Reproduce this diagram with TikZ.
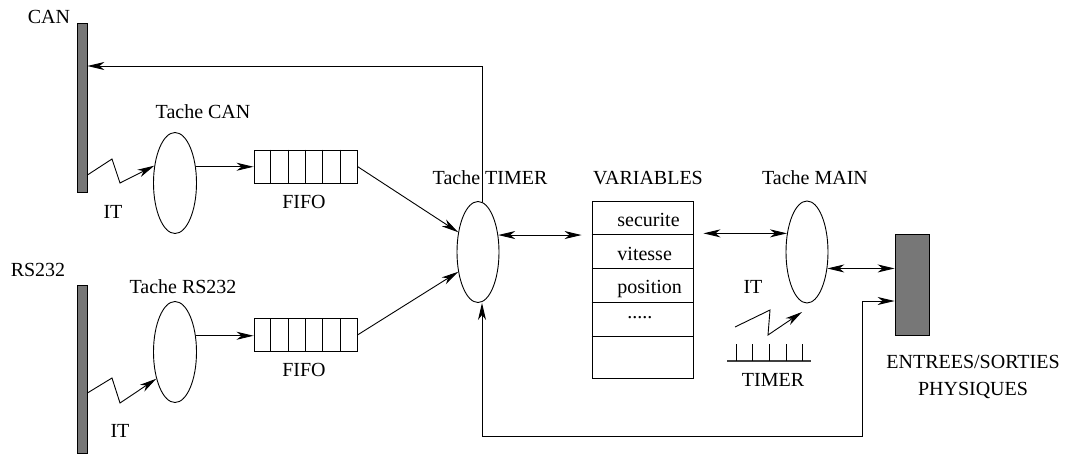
\documentclass[tikz,border=0pt]{standalone}
\usepackage{fontspec}
\setmainfont{Liberation Serif}
\newfontfamily\diagfont{Liberation Serif}
\usetikzlibrary{arrows.meta,calc,shapes.geometric}
\definecolor{busgray}{RGB}{119,119,119}
\begin{document}
\begin{tikzpicture}[x=1pt,y=-1pt,
  line width=0.9pt,
  arr/.style={-{Stealth[length=17pt,width=8pt,inset=5pt]}},
  darr/.style={{Stealth[length=17pt,width=8pt,inset=5pt]}-{Stealth[length=17pt,width=8pt,inset=5pt]}},
  lbl/.style={inner sep=0pt,text height=13.2pt,text depth=0pt,font=\diagfont\fontsize{20}{24}\selectfont},
  bus/.style={draw=black,line width=0.8pt,fill=busgray,minimum width=10pt,inner sep=0pt},
  task/.style={draw,ellipse,inner sep=0pt,minimum width=43pt,minimum height=101pt},
  fifo/.style={draw,rectangle,inner sep=0pt,minimum width=103pt,minimum height=33pt},
]
\useasboundingbox (0,0) rectangle (1065,453);

% buses and I/O box
\node[bus,minimum height=169pt] (canbar) at (82,107.5) {};
\node[bus,minimum height=168pt] (rsbar) at (82,369) {};
\node[bus,minimum width=34pt,minimum height=101pt] (io) at (912,284.5) {};

% tasks
\node[task] (ecan) at (175,183) {};
\node[task] (ers) at (175,352) {};
\node[task,minimum width=42pt] (etimer) at (478,252) {};
\node[task,minimum width=42pt,minimum height=102pt] (emain) at (807,252) {};

% fifos
\node[fifo] (fifo1) at (305.5,166.5) {};
\node[fifo] (fifo2) at (305.5,335) {};
\foreach \f in {fifo1,fifo2}
  \foreach \k in {1,...,5}
    \draw ($(\f.north west)!\k/6!(\f.north east)$) -- ($(\f.south west)!\k/6!(\f.south east)$);

% variables table
\node[draw,inner sep=0pt,minimum width=101pt,minimum height=177pt] (vars) at (642.5,289.5) {};
\foreach \yy in {234,268,302,336}
  \draw (vars.west |- 0,\yy) -- (vars.east |- 0,\yy);
\node[lbl,anchor=base west] (vsec) at (617,226) {securite};
\node[lbl,anchor=base west] (vvit) at (617,260) {vitesse};
\node[lbl,anchor=base west] (vpos) at (617,293) {position};
\node[lbl,anchor=base west] (vdots) at (627,318) {.....};

% labels
\node[lbl] (lcan) at (49,17) {CAN};
\node[lbl] (ltcan) at (203,112) {Tache CAN};
\node[lbl] (lit1) at (113,212) {IT};
\node[lbl] (lfifo1) at (304,202) {FIFO};
\node[lbl] (lrs) at (38,270) {RS232};
\node[lbl] (ltrs) at (183,287) {Tache RS232};
\node[lbl] (lit2) at (120,431) {IT};
\node[lbl] (lfifo2) at (304,370) {FIFO};
\node[lbl] (lttimer) at (490,178) {Tache TIMER};
\node[lbl] (lvars) at (648,178) {VARIABLES};
\node[lbl] (ltmain) at (815,178) {Tache MAIN};
\node[lbl] (lit3) at (753,287) {IT};
\node[lbl] (ltimer) at (773,380) {TIMER};
\node[lbl] (lio1) at (973,362) {ENTREES/SORTIES};
\node[lbl] (lio2) at (973,389) {PHYSIQUES};

% interrupt zigzags
\coordinate (z1) at (112,159);
\coordinate (z2) at (120,183);
\draw[arr] (canbar.east |- 0,175) -- (z1) -- (z2) -- (ecan.140);
\coordinate (z3) at (112,378);
\coordinate (z4) at (120,403);
\draw[arr] (rsbar.east |- 0,393) -- (z3) -- (z4) -- (ers.235);
\coordinate (z5) at (735,327);
\coordinate (z6) at (770,310);
\coordinate (z7) at (768,335);
\coordinate (z8) at (802,312);
\draw[arr] (z5) -- (z6) -- (z7) -- (z8);

% timer scale
\draw[line width=1.8pt,draw=black!75] (727,361) -- (811,361);
\foreach \xx in {736,752,769,786,802}
  \draw (\xx,344) -- (\xx,361);

% task -> fifo
\draw[arr] (ecan.38) -- (ecan.38 -| fifo1.west);
\draw[arr] (ers.38) -- (ers.38 -| fifo2.west);
% fifo -> timer task
\draw[arr] (fifo1.east) -- (etimer.135);
\draw[arr] (fifo2.east) -- (etimer.225);

% timer task <-> variables <-> main task <-> io
\draw[darr,shorten >=10pt] (etimer.40) -- (etimer.40 -| vars.west);
\draw[darr,shorten <=10pt] (vars.east |- emain.137) -- (emain.137);
\draw[darr] (emain.-39) -- (emain.-39 -| io.west);

% timer task -> CAN bus
\coordinate (tt) at (482,202);
\coordinate (ttc) at (482,66);
\draw[arr] (tt) -- (ttc) -- (canbar.east |- ttc);

% io -> timer task loop
\coordinate (bl) at (482,436);
\coordinate (br) at (862,436);
\draw[darr] (bl |- etimer.south) -- (bl) -- (br) |- ($(io.west)+(0,16.5)$);
\end{tikzpicture}
\end{document}
